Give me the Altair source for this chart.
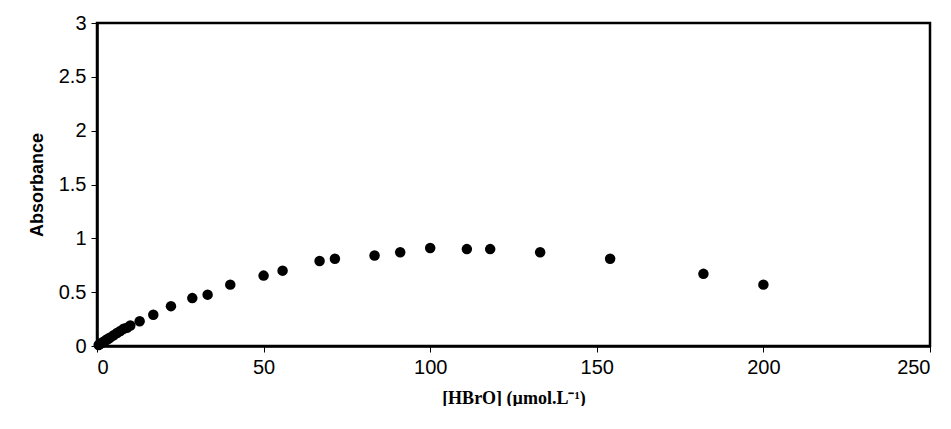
import pandas as pd
import altair as alt

hbro = [0.5, 1, 1.5, 2, 2.5, 3, 3.5, 4, 5, 6, 7, 8, 9, 10, 12.8, 16.9, 22.2, 28.6, 33.2, 40, 50, 55.7,
        66.8, 71.4, 83.3, 91, 100, 111, 118, 133, 154, 182, 200]
absorbance = [0.01, 0.02, 0.03, 0.04, 0.05, 0.06, 0.07, 0.08, 0.1, 0.12, 0.14, 0.16, 0.17, 0.19, 0.23, 0.29,
              0.37, 0.445, 0.477, 0.57, 0.654, 0.70, 0.79, 0.81, 0.84, 0.87, 0.91, 0.90, 0.90, 0.87, 0.81,
              0.67, 0.57]

df = pd.DataFrame({"x": hbro, "y": absorbance})

common = dict(grid=False, domainColor="black", domainWidth=2.5, tickColor="black", tickSize=6,
              labelFont="Liberation Sans", labelFontSize=20, labelColor="black", titleColor="black",
              labelPadding=5)

chart = alt.Chart(df).mark_circle(size=110, color="black", opacity=1).encode(
    x=alt.X("x:Q", scale=alt.Scale(domain=[0, 250], nice=False),
            axis=alt.Axis(values=[0, 50, 100, 150, 200, 250], title="[HBrO] (µmol.L⁻¹)", format="d",
                          titleFont="Liberation Serif", titleFontSize=18, titleFontWeight="bold",
                          titlePadding=12, **common)),
    y=alt.Y("y:Q", scale=alt.Scale(domain=[0, 3], nice=False),
            axis=alt.Axis(values=[0, 0.5, 1, 1.5, 2, 2.5, 3], title="Absorbance", format="~g",
                          titleFont="Liberation Sans", titleFontSize=18, titleFontWeight="bold",
                          titlePadding=12, **common)),
).properties(
    width=833, height=323, autosize=alt.AutoSizeParams(type="none"),
    padding={"left": 89, "top": 15, "right": 13, "bottom": 60},
).configure_view(stroke="black", strokeWidth=2.5)

chart.save("out.html", embed_options={"renderer": "svg", "actions": False})
